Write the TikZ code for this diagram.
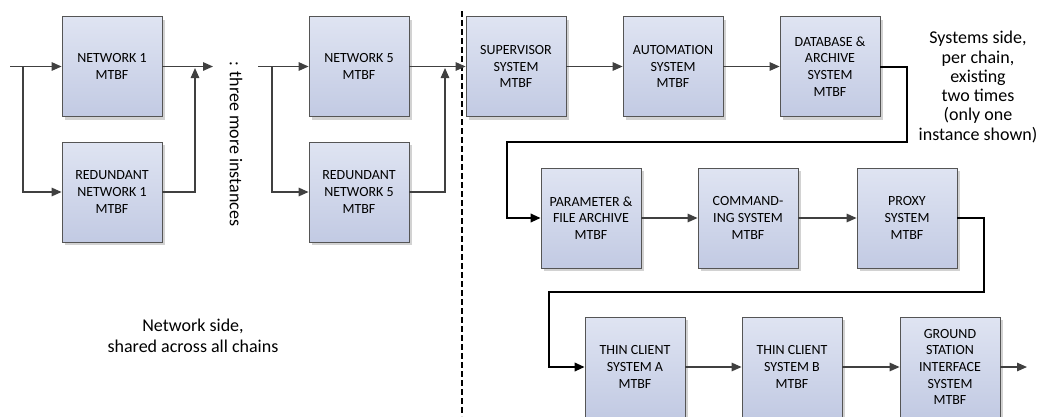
\documentclass[tikz,border=0pt]{standalone}
\usepackage{fontspec}
\setmainfont{Carlito}
\usetikzlibrary{arrows.meta,shadows}

\definecolor{boxtop}{RGB}{223,228,242}
\definecolor{boxbot}{RGB}{194,202,227}
\definecolor{boxedge}{RGB}{85,85,85}
\definecolor{wire}{RGB}{64,64,64}
\definecolor{shadowgray}{RGB}{210,210,210}

\begin{document}
\begin{tikzpicture}[x=1pt,y=-1pt,
  mtbf/.style={draw=boxedge, line width=0.8pt, top color=boxtop, bottom color=boxbot,
    minimum width=100pt, minimum height=100pt, inner sep=2pt, align=center,
    font=\fontsize{14}{16.7}\selectfont,
    drop shadow={shadow xshift=3pt, shadow yshift=-3pt, fill=shadowgray, opacity=1}},
  flow/.style={draw=wire, line width=1.4pt, -{Triangle[length=10pt,width=8.5pt]}},
  hop/.style={draw=black, line width=2pt, -{Triangle[length=10pt,width=8.5pt]}},
  note/.style={align=center, inner sep=0pt},
  divider/.style={draw=black, line width=1.5pt, dash pattern=on 6pt off 3pt}]

\useasboundingbox (0,0) rectangle (1042,416);

% ---- network side: redundant pairs ----
\node[mtbf] (n1) at (112,66.5) {NETWORK 1\\MTBF};
\node[mtbf] (r1) at (112,192) {REDUNDANT\\NETWORK 1\\MTBF};
\node[mtbf] (n5) at (359,66.5) {NETWORK 5\\MTBF};
\node[mtbf] (r5) at (359,192) {REDUNDANT\\NETWORK 5\\MTBF};

% ---- systems side: one chain ----
\node[mtbf] (sup)  at (516,66.5) {SUPERVISOR\\SYSTEM\\MTBF};
\node[mtbf] (auto) at (673,66.5) {AUTOMATION\\SYSTEM\\MTBF};
\node[mtbf] (db)   at (830,66.5) {DATABASE \&\\ARCHIVE\\SYSTEM\\MTBF};

\node[mtbf] (par)  at (591,218) {PARAMETER \&\\FILE ARCHIVE\\MTBF};
\node[mtbf] (cmd)  at (748,218) {COMMAND-\\ING SYSTEM\\MTBF};
\node[mtbf] (prx)  at (907,218) {PROXY\\SYSTEM\\MTBF};

\node[mtbf] (tca)  at (635,367) {THIN CLIENT\\SYSTEM A\\MTBF};
\node[mtbf] (tcb)  at (792,367) {THIN CLIENT\\SYSTEM B\\MTBF};
\node[mtbf] (gsi)  at (950,367) {GROUND\\STATION\\INTERFACE\\SYSTEM\\MTBF};

% ---- labels ----
\node[note, rotate=-90, font=\fontsize{18}{21}\selectfont] (more) at (236,144) {: three more instances};
\node[note, font=\fontsize{18}{21}\selectfont] (netside) at (193,335.5) {Network side,\\shared across all chains};
\node[note, font=\fontsize{18}{19.3}\selectfont] (sysside) at (978,87) {Systems side,\\per chain,\\existing\\two times\\(only one\\instance shown)};

% ---- helper points ----
\coordinate (in1)  at (10,66.5);
\coordinate (br1)  at (23,66.5);
\coordinate (j1)   at (195,68);
\coordinate (out1) at (213,66.5);
\coordinate (in2)  at (258,66.5);
\coordinate (br2)  at (272,66.5);
\coordinate (j2)   at (445,68);
\coordinate (dtop) at (462,11);
\coordinate (dbot) at (462,416);
\coordinate (t1)   at (907,66.5);
\coordinate (t2)   at (507,142);
\coordinate (u1)   at (984,218);
\coordinate (u2)   at (549,292);
\coordinate (fin)  at (1027,367);

% ---- separator ----
\draw[divider] (dtop) -- (dbot);

% ---- network side wiring ----
\draw[flow] (in1) -- (n1.west);
\draw[flow] (br1) |- (r1.west);
\draw[flow] (n1.east) -- (out1);
\draw[flow] (r1.east) -| (j1);

\draw[flow] (in2) -- (n5.west);
\draw[flow] (br2) |- (r5.west);
\draw[flow] (n5.east) -- (sup.west);
\draw[flow] (r5.east) -| (j2);

% ---- systems chain wiring ----
\draw[flow] (sup) -- (auto);
\draw[flow] (auto) -- (db);
\draw[hop] (db.east) -- (t1) |- (t2) |- (par.west);
\draw[flow] (par) -- (cmd);
\draw[flow] (cmd) -- (prx);
\draw[hop] (prx.east) -- (u1) |- (u2) |- (tca.west);
\draw[flow] (tca) -- (tcb);
\draw[flow] (tcb) -- (gsi);
\draw[flow] (gsi.east) -- (fin);

\end{tikzpicture}
\end{document}
